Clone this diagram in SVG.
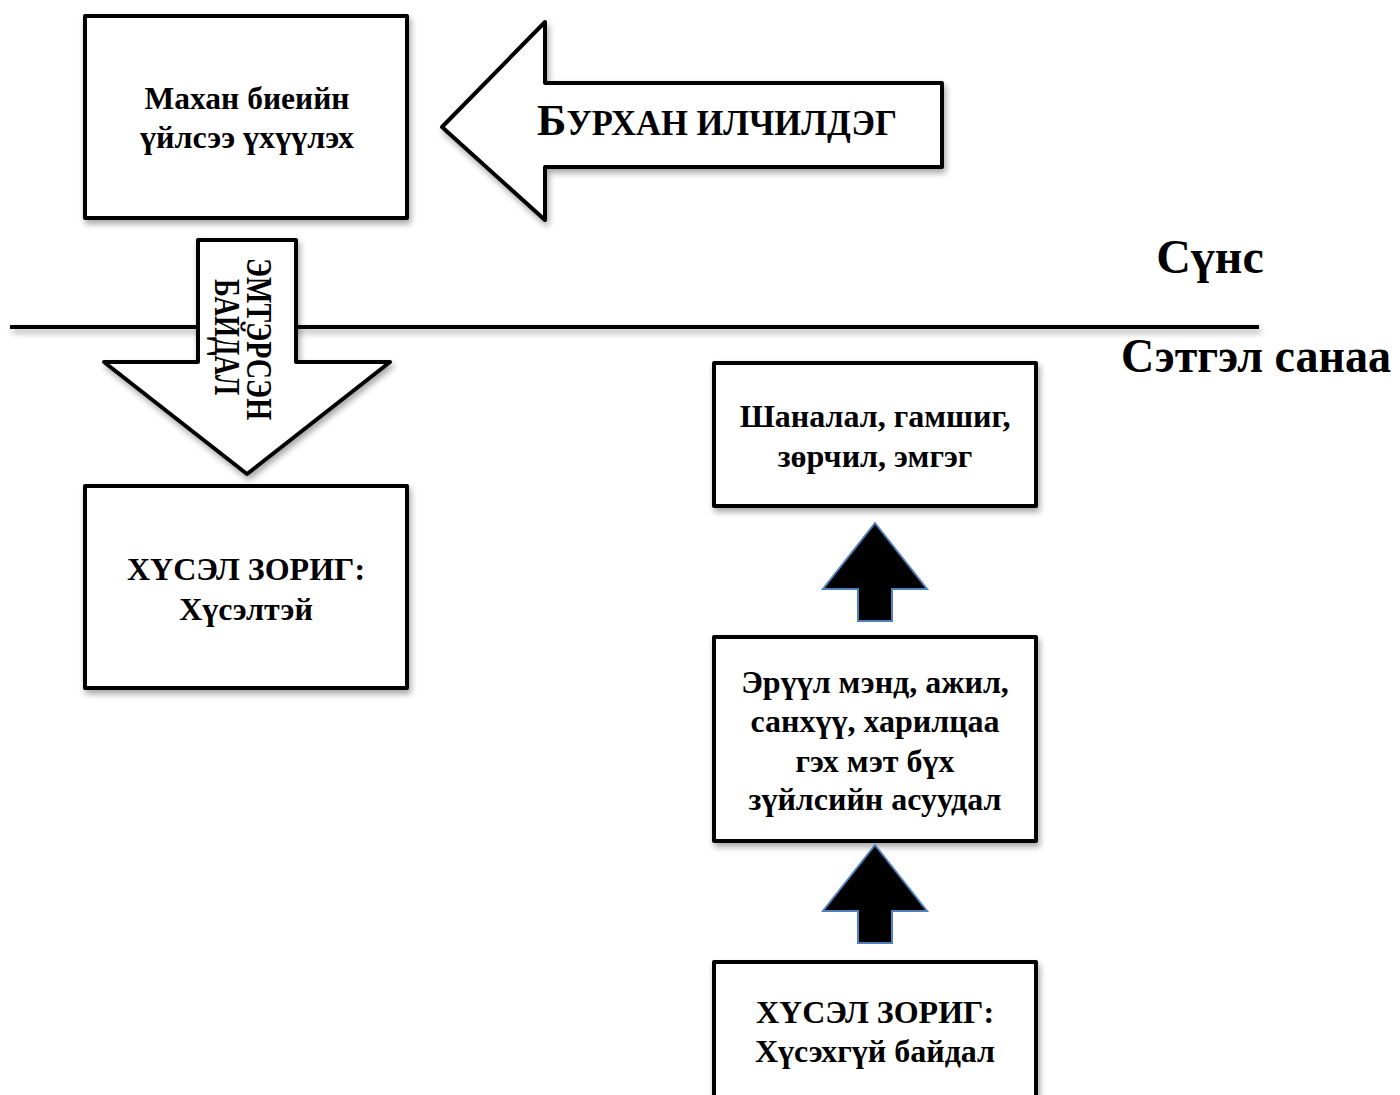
<svg xmlns="http://www.w3.org/2000/svg" width="1400" height="1095" viewBox="0 0 1400 1095">
<defs>
<filter id="sh" x="-10%" y="-10%" width="125%" height="130%">
<feDropShadow dx="2" dy="4" stdDeviation="3" flood-color="#000" flood-opacity="0.35"/>
</filter>
<filter id="shl" filterUnits="userSpaceOnUse" x="0" y="300" width="1400" height="60">
<feDropShadow dx="2" dy="4" stdDeviation="3" flood-color="#000" flood-opacity="0.35"/>
</filter>
<style>
.box{fill:#fff;stroke:#000;stroke-width:4;stroke-linejoin:round;filter:url(#sh)}
.bigarrow{fill:#fff;stroke:#000;stroke-width:4;stroke-linejoin:round;filter:url(#sh)}
.up{fill:#000;stroke:#4f81bd;stroke-width:2}
.t{font-family:"Liberation Serif","Times New Roman",serif;font-weight:bold;fill:#000;text-anchor:middle}
.s32{font-size:32px}
.big{font-size:48px}
</style>
</defs>
<rect width="1400" height="1095" fill="#fff"/>
<g id="connectors">
<line x1="10" y1="327" x2="1259" y2="327" stroke="#000" stroke-width="4" filter="url(#shl)"/>
</g>
<g id="label-suns">
<text class="t big" x="1210" y="273">Сүнс</text>
</g>
<g id="label-setgel">
<text class="t big" x="1256" y="372" textLength="270" lengthAdjust="spacingAndGlyphs">Сэтгэл санаа</text>
</g>
<g id="node-body">
<rect class="box" x="85" y="16" width="322" height="202"/>
<text class="t s32" x="247" y="109" textLength="205" lengthAdjust="spacingAndGlyphs">Махан биеийн</text>
<text class="t s32" x="247" y="148" textLength="214" lengthAdjust="spacingAndGlyphs">үйлсээ үхүүлэх</text>
</g>
<g id="arrow-burhan">
<path class="bigarrow" d="M442,127 L545,22 L545,83 L942,83 L942,167 L545,167 L545,220 Z"/>
<text class="t" x="717" y="135" textLength="360" lengthAdjust="spacingAndGlyphs"><tspan font-size="45">Б</tspan><tspan font-size="35">УРХАН ИЛЧИЛДЭГ</tspan></text>
</g>
<g id="arrow-emtersen">
<path class="bigarrow" d="M198,240 L296,240 L296,362 L390,362 L247,474 L104,362 L198,362 Z"/>
<g transform="translate(247,339) rotate(90)">
<text class="t" font-size="36" x="0" y="0" textLength="162" lengthAdjust="spacingAndGlyphs">ЭМТЭРСЭН</text>
<text class="t" font-size="36" x="-2" y="32" textLength="116" lengthAdjust="spacingAndGlyphs">БАЙДАЛ</text>
</g>
</g>
<g id="node-husel1">
<rect class="box" x="85" y="486" width="322" height="202"/>
<text class="t s32" x="246" y="580">ХҮСЭЛ ЗОРИГ:</text>
<text class="t s32" x="246" y="620">Хүсэлтэй</text>
</g>
<g id="node-shanalal">
<rect class="box" x="714" y="363" width="322" height="143"/>
<text class="t s32" x="875" y="427">Шаналал, гамшиг,</text>
<text class="t s32" x="875" y="467">зөрчил, эмгэг</text>
</g>
<g id="arrow-up1">
<path class="up" d="M875,523 L927,589 L892,589 L892,621 L858,621 L858,589 L823,589 Z"/>
</g>
<g id="node-eruul">
<rect class="box" x="714" y="637" width="322" height="204"/>
<text class="t s32" x="875" y="693">Эрүүл мэнд, ажил,</text>
<text class="t s32" x="875" y="732">санхүү, харилцаа</text>
<text class="t s32" x="875" y="772">гэх мэт бүх</text>
<text class="t s32" x="875" y="810">зүйлсийн асуудал</text>
</g>
<g id="arrow-up2">
<path class="up" d="M875,845 L927,911 L892,911 L892,943 L858,943 L858,911 L823,911 Z"/>
</g>
<g id="node-husel2">
<rect class="box" x="714" y="962" width="322" height="150"/>
<text class="t s32" x="875" y="1023">ХҮСЭЛ ЗОРИГ:</text>
<text class="t s32" x="875" y="1062">Хүсэхгүй байдал</text>
</g>
</svg>
